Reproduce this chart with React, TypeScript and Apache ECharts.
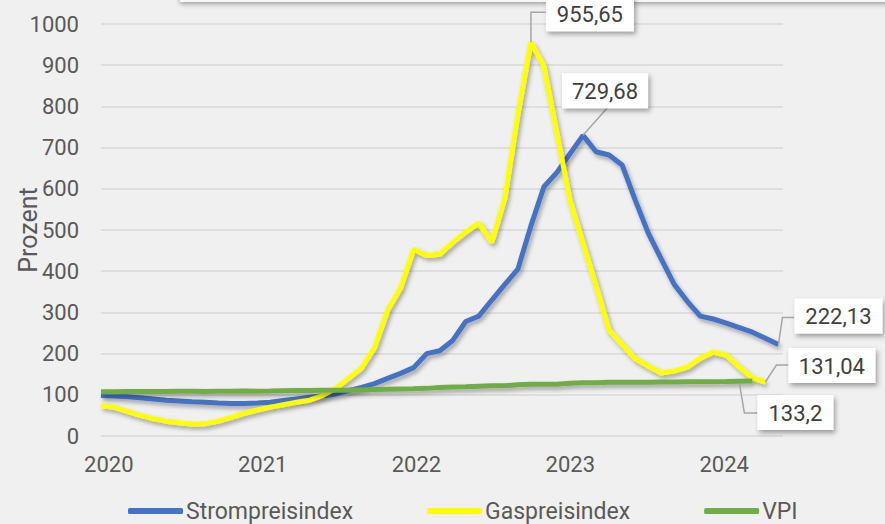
import React, { useEffect, useRef } from "react";
import * as echarts from "echarts";

// Monthly values, index 0 = January 2020
const strompreisindex = [
  98, 97, 95, 93, 90, 87, 85, 83, 82, 80, 79, 79,
  80, 82, 86, 90, 94, 97, 102, 110, 118, 127, 140, 152,
  166, 200, 207, 232, 278, 291, 330, 368, 405, 510, 605, 640,
  685, 729.68, 690, 682, 658, 573, 493, 430, 368, 327, 291, 284,
  274, 263, 252, 237, 222.13,
];
const gaspreisindex = [
  74, 70, 60, 50, 42, 36, 32, 29, 30, 36, 45, 55,
  63, 70, 76, 82, 87, 98, 115, 140, 165, 215, 305, 360,
  453, 438, 441, 470, 495, 517, 470, 577, 780, 955.65, 897, 735,
  573, 468, 365, 257, 222, 188, 170, 153, 158, 167, 189, 204,
  196, 167, 141, 131.04,
];
const vpi = [
  107.3, 107.7, 108.0, 107.9, 107.9, 108.2, 108.4, 108.4, 108.3, 108.7, 108.7, 109.1,
  108.9, 109.3, 110.0, 110.5, 110.7, 111.0, 111.3, 111.4, 111.9, 112.8, 113.2, 113.9,
  114.4, 115.6, 117.5, 118.9, 119.6, 120.9, 121.9, 122.1, 124.6, 125.6, 125.4, 125.8,
  127.9, 129.0, 129.1, 130.5, 130.4, 130.5, 130.5, 131.2, 131.2, 131.7, 131.6, 131.8,
  132.0, 132.6, 133.2,
];
const yearLabels = ["2020", "2021", "2022", "2023", "2024"];
const yearTicks = [0, 12, 24, 36, 48];
const seriesNames = ["Strompreisindex", "Gaspreisindex", "VPI"];
const seriesColors = ["#4472C4", "#FFFF00", "#70AD47"];
const yTicks = { min: 0, max: 1000, interval: 100 };
const yAxisTitle = "Prozent";

const FONT = "Roboto, 'Noto Sans', sans-serif";
const TEXT = "#595959";

const fmt = (v: number) => String(v).replace(".", ",");

export default function App() {
  const ref = useRef<HTMLDivElement>(null);
  useEffect(() => {
    if (!ref.current) return;
    const chart = echarts.init(ref.current, undefined, { renderer: "svg" });
    const all = [strompreisindex, gaspreisindex, vpi];
    // year label anchors (date-axis style placement)
    const labelPos = yearTicks.map((t) => t * 0.984 + 0.6);
    chart.setOption({
      animation: false,
      backgroundColor: "#f0f0f0",
      textStyle: { fontFamily: FONT },
      grid: {
        left: 101,
        right: 102,
        top: 24,
        bottom: 88,
        containLabel: false,
        outerBoundsMode: "none",
      },
      legend: {
        data: seriesNames,
        left: 128,
        top: 499,
        padding: 0,
        icon: "roundRect",
        itemWidth: 55,
        itemHeight: 6,
        itemGap: 74,
        textStyle: {
          fontSize: 23,
          lineHeight: 24,
          color: TEXT,
          fontFamily: FONT,
          padding: [0, 0, 0, -2],
        },
      },
      xAxis: {
        type: "value",
        min: 0,
        max: 52.35,
        splitLine: { show: false },
        axisLine: { show: false },
        axisTick: { show: false },
        axisLabel: {
          customValues: labelPos,
          formatter: (v: number) => {
            let best = 0;
            labelPos.forEach((p, k) => {
              if (Math.abs(p - v) < Math.abs(labelPos[best] - v)) best = k;
            });
            return yearLabels[best];
          },
          fontSize: 22,
          color: TEXT,
          fontFamily: FONT,
          margin: 17,
          alignMinLabel: "center",
          alignMaxLabel: "center",
        },
      },
      yAxis: {
        type: "value",
        min: yTicks.min,
        max: yTicks.max,
        interval: yTicks.interval,
        axisLine: { show: false },
        axisTick: { show: false },
        axisLabel: {
          fontSize: 22,
          color: TEXT,
          fontFamily: FONT,
          margin: 22,
          formatter: (v: number) => String(v),
        },
        splitLine: { lineStyle: { color: "#d9d9d9", width: 1.5 } },
      },
      series: all.map((arr, k) => ({
        name: seriesNames[k],
        type: "line",
        data: arr.map((v, i) => [i, v]),
        symbol: "none",
        color: seriesColors[k],
        lineStyle: {
          width: 5,
          color: seriesColors[k],
          shadowColor: "rgba(0,0,0,0.32)",
          shadowBlur: 4,
          shadowOffsetX: 2,
          shadowOffsetY: 3,
        },
      })),
    });

    // Data label call-outs: series, index, leader points (relative to point), box (relative x, y, width)
    const callouts = [
      { s: 1, i: 33, pts: [[0, 0], [0, -30], [15, -30]], box: [15, -46, 88] },
      { s: 0, i: 37, pts: [[0, 0], [24, -27]], box: [-21, -62, 86] },
      { s: 0, i: 52, pts: [[0, 0], [4, -27], [16, -27]], box: [16, -46, 88] },
      { s: 1, i: 51, pts: [[0, 0], [11, -17], [23, -17]], box: [23, -34, 87] },
      { s: 2, i: 50, pts: [[-13, 2], [-8, 32], [5, 32]], box: [5, 14, 76] },
    ];
    const graphics: any[] = [
      {
        type: "rect",
        shape: { x: 180, y: -40, width: 720, height: 42 },
        style: {
          fill: "#f7f7f7",
          shadowColor: "rgba(0,0,0,0.35)",
          shadowBlur: 5,
          shadowOffsetY: 2,
        },
        z: 50,
      },
      {
        type: "text",
        x: 28,
        y: 230,
        rotation: Math.PI / 2,
        style: {
          text: yAxisTitle,
          x: 0,
          y: 0,
          fill: TEXT,
          font: `25px ${FONT}`,
          textAlign: "center",
          textVerticalAlign: "middle",
          align: "center",
          verticalAlign: "middle",
        },
        z: 10,
      },
    ];
    callouts.forEach((c) => {
      const val = all[c.s][c.i];
      const p = chart.convertToPixel({ xAxisIndex: 0, yAxisIndex: 0 }, [c.i, val]) as number[];
      graphics.push({
        type: "polyline",
        shape: { points: c.pts.map(([dx, dy]) => [p[0] + dx, p[1] + dy]) },
        style: { stroke: "#a6a6a6", lineWidth: 1.5, fill: null },
        z: 60,
      });
      const [bx, by, bw] = c.box;
      graphics.push({
        type: "rect",
        shape: { x: p[0] + bx, y: p[1] + by, width: bw, height: 35 },
        style: {
          fill: "#ffffff",
          shadowColor: "rgba(0,0,0,0.35)",
          shadowBlur: 5,
          shadowOffsetX: 2,
          shadowOffsetY: 3,
        },
        z: 61,
      });
      graphics.push({
        type: "text",
        style: {
          text: fmt(val),
          x: p[0] + bx + bw / 2,
          y: p[1] + by + 18,
          fill: "#404040",
          font: `22px ${FONT}`,
          textAlign: "center",
          textVerticalAlign: "middle",
          align: "center",
          verticalAlign: "middle",
        },
        z: 62,
      });
    });
    chart.setOption({ graphic: graphics });
    return () => chart.dispose();
  }, []);
  return (
    <div
      ref={ref}
      style={{ position: "absolute", left: 0, top: 0, width: 885, height: 524 }}
    />
  );
}
